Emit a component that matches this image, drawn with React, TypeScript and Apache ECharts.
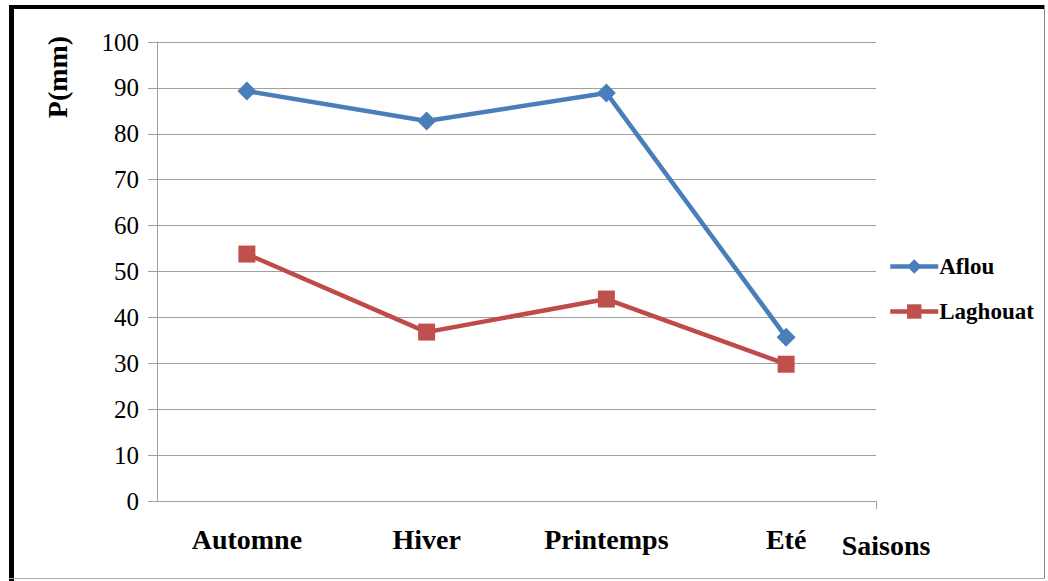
import React, { useEffect, useRef } from "react";
import * as echarts from "echarts";

const categories = ["Automne", "Hiver", "Printemps", "Eté"];
const aflou = [89.3, 82.8, 88.9, 35.7];
const laghouat = [53.8, 36.8, 44.0, 29.8];
const yMin = 0;
const yMax = 100;
const yInterval = 10;

const FONT = "'Liberation Serif', 'Times New Roman', serif";

export default function App() {
  const ref = useRef<HTMLDivElement>(null);
  useEffect(() => {
    if (!ref.current) return;
    const chart = echarts.init(ref.current, null, { renderer: "svg" });
    chart.setOption({
      animation: false,
      backgroundColor: "#ffffff",
      textStyle: { fontFamily: FONT },
      grid: { left: 157, right: 172, top: 42, bottom: 80, containLabel: false },
      legend: {
        orient: "vertical",
        left: 888,
        top: 255,
        padding: 0,
        itemWidth: 48,
        itemHeight: 18,
        itemGap: 22,
        lineStyle: { width: 4.5 },
        textStyle: { fontFamily: FONT, fontSize: 23, fontWeight: "bold", color: "#000", padding: [0, 0, 0, -4] },
        data: ["Aflou", "Laghouat"],
      },
      xAxis: {
        type: "category",
        data: categories,
        boundaryGap: true,
        axisLine: { lineStyle: { color: "#a0a0a0", width: 1 } },
        axisTick: { alignWithLabel: true, length: 8, lineStyle: { color: "#a0a0a0" } },
        axisLabel: { fontFamily: FONT, fontSize: 28, fontWeight: "bold", color: "#000", margin: 24 },
      },
      yAxis: {
        type: "value",
        min: yMin,
        max: yMax,
        interval: yInterval,
        axisLine: { show: true, lineStyle: { color: "#a0a0a0", width: 1 } },
        axisTick: { show: true, length: 9, lineStyle: { color: "#a0a0a0" } },
        splitLine: { lineStyle: { color: "#a0a0a0", width: 1 } },
        axisLabel: { fontFamily: FONT, fontSize: 25, color: "#000", margin: 18 },
      },
      series: [
        {
          name: "Aflou",
          type: "line",
          data: aflou,
          symbol: "diamond",
          symbolSize: 19,
          lineStyle: { color: "#4a7ebb", width: 4.5 },
          itemStyle: { color: "#4a7ebb" },
        },
        {
          name: "Laghouat",
          type: "line",
          data: laghouat,
          symbol: "rect",
          symbolSize: 17,
          lineStyle: { color: "#be4b48", width: 4.5 },
          itemStyle: { color: "#c0504d" },
        },
      ],
      graphic: [
        { type: "rect", shape: { x: 9, y: 5, width: 5, height: 576 }, style: { fill: "#000" } },
        { type: "rect", shape: { x: 9, y: 5, width: 1036, height: 4 }, style: { fill: "#000" } },
        { type: "line", shape: { x1: 1044.5, y1: 5, x2: 1044.5, y2: 579 }, style: { stroke: "#888", lineWidth: 1 } },
        { type: "line", shape: { x1: 9, y1: 578.5, x2: 1045, y2: 578.5 }, style: { stroke: "#aaa", lineWidth: 1 } },
        { type: "line", shape: { x1: 876.5, y1: 501, x2: 876.5, y2: 509 }, style: { stroke: "#a0a0a0", lineWidth: 1 } },
        {
          type: "text",
          x: 57,
          y: 77,
          rotation: Math.PI / 2,
          style: {
            text: "P(mm)",
            font: `bold 28px ${FONT}`,
            fill: "#000",
            textAlign: "center",
            textVerticalAlign: "middle",
          },
        },
        {
          type: "text",
          x: 886,
          y: 545,
          style: {
            text: "Saisons",
            font: `bold 28px ${FONT}`,
            fill: "#000",
            textAlign: "center",
            textVerticalAlign: "middle",
          },
        },
      ],
    });
    return () => chart.dispose();
  }, []);
  return (
    <div
      ref={ref}
      style={{ position: "fixed", left: 0, top: 0, width: 1048, height: 581 }}
    />
  );
}
